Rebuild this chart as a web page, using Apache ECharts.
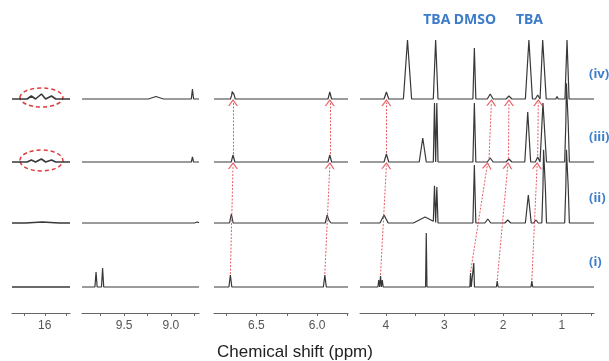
<!DOCTYPE html>
<html><head><meta charset="utf-8">
<script src="https://cdn.jsdelivr.net/npm/echarts@6/dist/echarts.min.js"></script>
<style>html,body{margin:0;padding:0;background:#fff}#c{width:609px;height:361px}</style>
</head><body><div id="c"></div>
<script>
// ---------------- DATA ----------------
// x-axis ranges (ppm) of the four broken-axis panels
const panelRanges = [[15.70, 16.39], [8.70, 9.95], [5.745, 6.85], [0.45, 4.44]];
const tickValues = [[16.25, 16, 15.75], [9.75, 9.5, 9.25, 9.0, 8.75], [6.75, 6.5, 6.25, 6.0, 5.75], [4, 3.5, 3, 2.5, 2, 1.5, 1, 0.5]];
const tickLabels = [[16], [9.5, 9.0], [6.5, 6.0], [4, 3, 2, 1]];
const spectrumNames = ['(i)', '(ii)', '(iii)', '(iv)'];
const topLabels = [['TBA', 3.13], ['DMSO', 2.48], ['TBA', 1.55]];

// peaks: [panel, ppm, height, half-width(ppm)]
const peaks_i = [
  [1, 9.91, 1, 0.01], [1, 9.87, 1, 0.01], [1, 9.80, 15, 0.012], [1, 9.73, 19, 0.012], [1, 9.07, 1, 0.01], [1, 8.88, 1, 0.01],
  [2, 6.715, 12, 0.012], [2, 5.936, 12, 0.012],
  [3, 4.12, 7, 0.015], [3, 4.09, 11, 0.015], [3, 4.06, 7, 0.015],
  [3, 3.31, 54, 0.012], [3, 2.555, 14, 0.012], [3, 2.50, 24, 0.012],
  [3, 2.10, 6, 0.015], [3, 1.82, 1, 0.02], [3, 1.51, 6, 0.015]
];
const peaks_ii = [
  [0, 16.03, 1, 0.2],
  [1, 8.72, 1, 0.03],
  [2, 6.707, 9, 0.015], [2, 5.917, 8, 0.015], [2, 5.90, 3, 0.015],
  [3, 4.03, 8, 0.07], [3, 3.33, 6, 0.2], [3, 3.17, 36, 0.02], [3, 3.13, 36, 0.02],
  [3, 2.49, 58, 0.025], [3, 2.40, 2, 0.03], [3, 2.26, 4, 0.05], [3, 1.92, 3, 0.05],
  [3, 1.57, 28, 0.05], [3, 1.44, 3, 0.04], [3, 1.31, 55, 0.03], [3, 1.29, 55, 0.03],
  [3, 0.92, 55, 0.03], [3, 0.90, 55, 0.03], [3, 0.77, 1.5, 0.02]
];
const peaks_iii = [
  [0, 16.16, 2, 0.05], [0, 16.04, 3, 0.05], [0, 15.92, 2, 0.05],
  [1, 8.77, 5, 0.012],
  [2, 6.693, 7, 0.015], [2, 5.895, 7, 0.015],
  [3, 3.99, 8, 0.04], [3, 3.37, 24, 0.06], [3, 3.17, 59, 0.02], [3, 3.13, 59, 0.02],
  [3, 2.49, 59, 0.025], [3, 2.22, 4, 0.05], [3, 1.90, 3, 0.05], [3, 1.58, 50, 0.05],
  [3, 1.41, 5, 0.04], [3, 1.32, 59, 0.03], [3, 1.29, 59, 0.03], [3, 1.08, 2, 0.02],
  [3, 0.92, 59, 0.03], [3, 0.90, 59, 0.03], [3, 0.77, 2, 0.02]
];
const peaks_iv = [
  [0, 16.16, 3, 0.05], [0, 16.04, 5, 0.05], [0, 15.92, 3, 0.05],
  [1, 9.16, 2.5, 0.08], [1, 8.91, 1.5, 0.02], [1, 8.77, 10, 0.012],
  [2, 6.70, 5, 0.015], [2, 6.69, 7, 0.015], [2, 5.895, 7, 0.015],
  [3, 3.99, 7, 0.04], [3, 3.63, 59, 0.07], [3, 3.15, 59, 0.04], [3, 2.74, 1.5, 0.03],
  [3, 2.49, 51, 0.025], [3, 2.22, 5, 0.05], [3, 1.90, 3, 0.05], [3, 1.56, 59, 0.06],
  [3, 1.41, 4, 0.04], [3, 1.325, 59, 0.03], [3, 1.295, 59, 0.03], [3, 1.08, 2.5, 0.02],
  [3, 0.91, 59, 0.035], [3, 0.77, 2, 0.02]
];
// arrows: [panel, fromPpm, fromSpectrum, toPpm, toSpectrum]
const arrows = [
  [2, 6.715, 0, 6.693, 2], [2, 6.693, 2, 6.693, 3],
  [2, 5.936, 0, 5.895, 2], [2, 5.895, 2, 5.895, 3],
  [3, 4.09, 0, 3.99, 2], [3, 3.99, 2, 3.99, 3],
  [3, 2.555, 0, 2.27, 2], [3, 2.24, 2, 2.20, 3],
  [3, 2.10, 0, 1.92, 2], [3, 1.91, 2, 1.90, 3],
  [3, 1.51, 0, 1.42, 2], [3, 1.41, 2, 1.40, 3]
];
// highlighted regions (ellipses): [panel, ppm, spectrum]
const ellipses = [[0, 16.04, 3], [0, 16.04, 2]];

// ---------------- LAYOUT ----------------
const panelPx = [[12, 70], [82, 199], [214, 348], [360, 594]];
const baseOffsets = [26, 90, 151, 214];
const yMax = 303;
const allPeaks = [peaks_i, peaks_ii, peaks_iii, peaks_iv];
const labelColor = '#3d7cc9';
const arrowColor = '#e2434a';
const chevron = 'path://M0,10 L5,0 L10,10 L8.6,10 L5,2.8 L1.4,10 Z';

function peakValue(list, x) {
  let s = 0;
  for (const p of list) {
    const d = Math.abs(x - p[1]);
    if (d < p[3]) s += p[2] * (1 - d / p[3]);
  }
  return s;
}
function buildTrace(spec, panel) {
  const [lo, hi] = panelRanges[panel];
  const list = allPeaks[spec].filter(p => p[0] === panel);
  const xs = new Set([lo, hi]);
  for (const p of list) {
    for (const x of [p[1] - p[3], p[1], p[1] + p[3]]) if (x > lo && x < hi) xs.add(x);
  }
  return [...xs].sort((a, b) => b - a).map(x => [x, baseOffsets[spec] + peakValue(list, x)]);
}
function peakHeightAt(spec, panel, ppm) {
  return peakValue(allPeaks[spec].filter(p => p[0] === panel), ppm);
}

const grids = [], xAxes = [], yAxes = [], series = [];
panelRanges.forEach((r, p) => {
  grids.push({ left: panelPx[p][0], width: panelPx[p][1] - panelPx[p][0], top: 10, height: yMax });
  xAxes.push({
    type: 'value', gridIndex: p, min: r[0], max: r[1], inverse: true,
    splitLine: { show: false },
    axisLine: { onZero: false, lineStyle: { color: '#666', width: 1.2 } },
    axisTick: { customValues: tickValues[p], length: 3, lineStyle: { color: '#666' } },
    axisLabel: {
      customValues: tickLabels[p], color: '#555', fontSize: 12, margin: 7,
      fontFamily: 'Liberation Sans Narrow, Liberation Sans, Arial',
      formatter: v => (p === 1 || p === 2) ? v.toFixed(1) : String(Math.round(v))
    }
  });
  yAxes.push({ type: 'value', gridIndex: p, min: 0, max: yMax, show: false });
  for (let s = 0; s < 4; s++) {
    const ser = {
      type: 'line', xAxisIndex: p, yAxisIndex: p, data: buildTrace(s, p),
      showSymbol: false, silent: true, animation: false,
      lineStyle: { color: '#383838', width: p === 0 ? 1.6 : 1.2 }
    };
    if (s === 0) {
      const md = arrows.filter(a => a[0] === p).map(a => {
        const y1 = baseOffsets[a[2]] + peakHeightAt(a[2], p, a[1]) + 1;
        const y2 = baseOffsets[a[4]] - 3.5;
        return [{ coord: [a[1], y1] }, { coord: [a[3], y2] }];
      });
      if (md.length) {
        ser.markLine = {
          silent: true, animation: false, symbol: ['none', chevron], symbolSize: [10, 7],
          label: { show: false }, emphasis: { disabled: true },
          lineStyle: { color: arrowColor, type: [2, 1.5], width: 1, opacity: 0.85 },
          data: md
        };
      }
    }
    series.push(ser);
  }
});

const chart = echarts.init(document.getElementById('c'), null, { renderer: 'canvas' });
chart.setOption({
  animation: false,
  grid: grids, xAxis: xAxes, yAxis: yAxes, series: series
});

const graphics = [];
ellipses.forEach(e => {
  const c = chart.convertToPixel({ gridIndex: e[0] }, [e[1], baseOffsets[e[2]] + 1.5]);
  graphics.push({
    type: 'ellipse', shape: { cx: c[0], cy: c[1], rx: 21.5, ry: e[2] === 3 ? 9.5 : 10.5 },
    style: { fill: 'none', stroke: '#e03a3a', lineWidth: 1.5, lineDash: [4, 3] }, silent: true
  });
});
spectrumNames.forEach((n, s) => {
  const c = chart.convertToPixel({ gridIndex: 3 }, [panelRanges[3][0], baseOffsets[s]]);
  graphics.push({
    type: 'text', left: 589, top: c[1] - 31, silent: true,
    style: { text: n, fill: labelColor, font: 'bold 13px "Noto Sans", sans-serif' }
  });
});
topLabels.forEach(t => {
  const c = chart.convertToPixel({ gridIndex: 3 }, [t[1], 0]);
  graphics.push({
    type: 'text', x: c[0], y: 20, silent: true,
    style: { text: t[0], fill: labelColor, font: 'bold 14px "Noto Sans", sans-serif', align: 'center', verticalAlign: 'middle' }
  });
});
graphics.push({
  type: 'text', x: 295, y: 352, silent: true,
  style: { text: 'Chemical shift (ppm)', fill: '#222', font: '17px "Liberation Sans", Arial', align: 'center', verticalAlign: 'middle' }
});
chart.setOption({ graphic: graphics });
</script></body></html>
